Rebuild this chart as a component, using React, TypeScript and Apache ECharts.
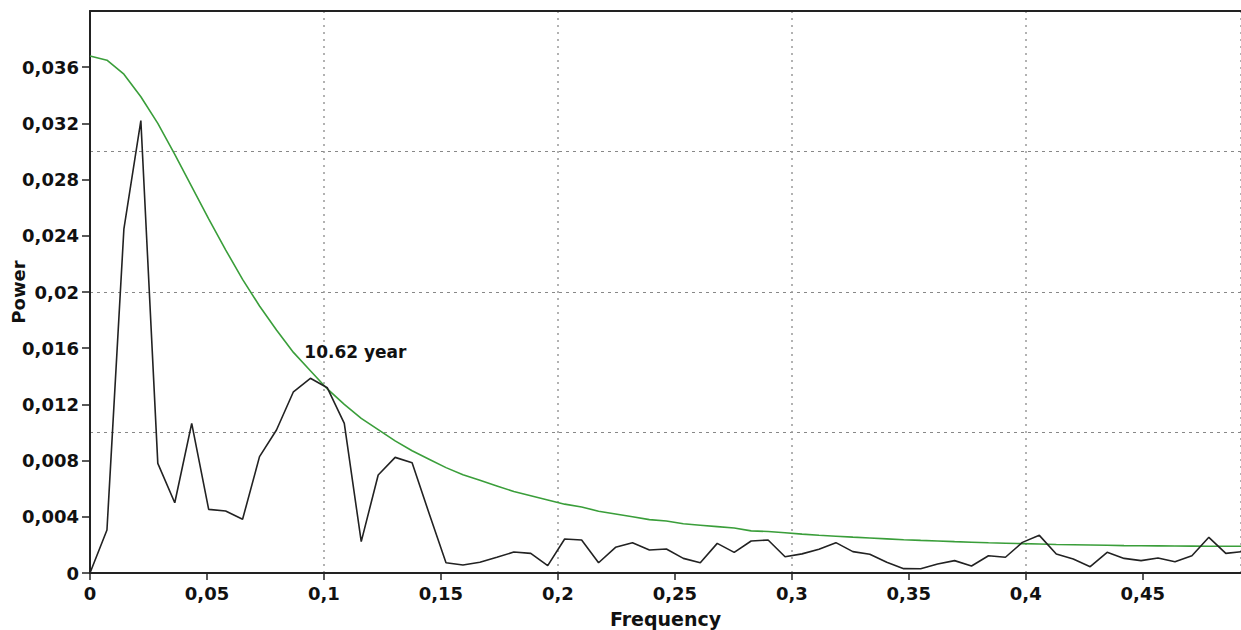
import React, { useEffect, useRef } from "react";
import * as echarts from "echarts";

// Frequency spacing of the periodogram (cycles per year)
const freqStep = 1 / 138;

// Periodogram power (black line)
const powerValues = [
  0, 0.00306, 0.0245, 0.0322, 0.0078, 0.005, 0.01065, 0.00453, 0.00441, 0.00382,
  0.00828, 0.01018, 0.0129, 0.01386, 0.01318, 0.01065, 0.00223, 0.00698, 0.00823, 0.00785,
  0.00425, 0.00073, 0.00057, 0.00076, 0.00112, 0.00149, 0.0014, 0.00052, 0.00242, 0.00235,
  0.00073, 0.00183, 0.00216, 0.00164, 0.00171, 0.00104, 0.00073, 0.00211, 0.00147, 0.00228,
  0.00235, 0.00116, 0.00136, 0.00169, 0.00216, 0.00152, 0.00133, 0.00076, 0.00031, 0.0003,
  0.00064, 0.00088, 0.0005, 0.00123, 0.00112, 0.00218, 0.00268, 0.00135, 0.001, 0.00045,
  0.00147, 0.00104, 0.00088, 0.00107, 0.0008, 0.00123, 0.00254, 0.0014, 0.00152,
];

// Red-noise significance level (green line)
const noiseValues = [
  0.0368, 0.0365, 0.0355, 0.0339, 0.032, 0.0298, 0.0275, 0.0252, 0.023, 0.0209,
  0.019, 0.0173, 0.0157, 0.0144, 0.0131, 0.012, 0.011, 0.0102, 0.0094, 0.0087,
  0.0081, 0.0075, 0.007, 0.0066, 0.0062, 0.0058, 0.0055, 0.0052, 0.0049, 0.0047,
  0.0044, 0.0042, 0.004, 0.0038, 0.0037, 0.0035, 0.0034, 0.0033, 0.0032, 0.003,
  0.00295, 0.00286, 0.00277, 0.00269, 0.00262, 0.00255, 0.00249, 0.00243, 0.00237, 0.00232,
  0.00228, 0.00223, 0.00219, 0.00215, 0.00212, 0.00209, 0.00206, 0.00203, 0.00201, 0.00199,
  0.00197, 0.00195, 0.00194, 0.00193, 0.00192, 0.00191, 0.0019, 0.0019, 0.0019,
];

const peakIndex = 13;
const peakLabel = "10.62 year";

const xMax = 0.492;
const yMax = 0.04;

const FONT = "DejaVu Sans";

function fmtComma(v: number, step: number): string {
  const k = Math.round(v / step);
  if (Math.abs(k * step - v) > 1e-9) return "";
  if (v === 0) return "0";
  const s = parseFloat(v.toFixed(4)).toString();
  return s.replace(".", ",");
}

export default function App() {
  const ref = useRef<HTMLDivElement>(null);
  useEffect(() => {
    if (!ref.current) return;
    const chart = echarts.init(ref.current, null, { renderer: "svg" });
    const powerData = powerValues.map((v, i) => [i * freqStep, v]);
    const noiseData = noiseValues.map((v, i) => [i * freqStep, v]);
    const labelStyle = {
      color: "#111",
      fontFamily: FONT,
      fontWeight: "bold" as const,
      fontSize: 18,
    };
    chart.setOption({
      animation: false,
      backgroundColor: "#fff",
      grid: {
        left: 90,
        right: 0,
        top: 11,
        bottom: 57,
        containLabel: false,
        outerBoundsMode: "none",
      },
      xAxis: [
        {
          type: "value",
          min: 0,
          max: xMax,
          interval: 0.05,
          position: "bottom",
          name: "Frequency",
          nameLocation: "middle",
          nameGap: 36,
          nameMoveOverlap: false,
          nameTextStyle: { ...labelStyle, fontSize: 19 },
          axisLine: { show: true, onZero: false, lineStyle: { color: "#222", width: 2 } },
          axisTick: { show: true, length: 7, lineStyle: { color: "#222", width: 1.5 } },
          axisLabel: {
            ...labelStyle,
            margin: 11,
            showMaxLabel: false,
            formatter: (v: number) => fmtComma(v, 0.05),
          },
          splitLine: { show: false },
        },
        {
          type: "value",
          min: 0,
          max: xMax,
          interval: 0.1,
          position: "top",
          axisLine: { show: true, onZero: false, lineStyle: { color: "#222", width: 2 } },
          axisTick: { show: false },
          axisLabel: { show: false },
          splitLine: {
            show: true,
            lineStyle: { color: "#999", width: 1.5, type: [2, 5] },
          },
        },
      ],
      yAxis: [
        {
          type: "value",
          min: 0,
          max: yMax,
          interval: 0.004,
          position: "left",
          name: "Power",
          nameLocation: "middle",
          nameGap: 63,
          nameMoveOverlap: false,
          nameRotate: 90,
          nameTextStyle: labelStyle,
          axisLine: { show: true, onZero: false, lineStyle: { color: "#222", width: 2 } },
          axisTick: { show: true, length: 8, lineStyle: { color: "#222", width: 1.5 } },
          axisLabel: {
            ...labelStyle,
            margin: 11,
            showMaxLabel: false,
            formatter: (v: number) => (v >= yMax - 1e-9 ? "" : fmtComma(v, 0.004)),
          },
          splitLine: { show: false },
        },
        {
          type: "value",
          min: 0,
          max: yMax,
          interval: 0.01,
          position: "right",
          axisLine: { show: false },
          axisTick: { show: false },
          axisLabel: { show: false },
          splitLine: {
            show: true,
            lineStyle: { color: "#888", width: 1.2, type: [3, 4] },
          },
        },
      ],
      series: [
        {
          type: "line",
          data: noiseData,
          xAxisIndex: 0,
          yAxisIndex: 0,
          showSymbol: false,
          symbol: "none",
          lineStyle: { color: "#3a9e3a", width: 1.6 },
          clip: true,
          z: 3,
        },
        {
          type: "line",
          data: powerData,
          xAxisIndex: 0,
          yAxisIndex: 0,
          showSymbol: false,
          symbol: "none",
          lineStyle: { color: "#222", width: 1.6 },
          clip: true,
          z: 4,
          markPoint: {
            symbol: "circle",
            symbolSize: 0,
            silent: true,
            data: [
              {
                coord: [peakIndex * freqStep, powerValues[peakIndex]],
                label: {
                  show: true,
                  formatter: peakLabel,
                  position: "inside",
                  align: "center",
                  verticalAlign: "middle",
                  offset: [45, -26],
                  color: "#111",
                  fontFamily: FONT,
                  fontWeight: "bold",
                  fontSize: 17,
                },
              },
            ],
          },
        },
      ],
    });
    return () => chart.dispose();
  }, []);
  return (
    <div
      ref={ref}
      style={{ position: "fixed", left: 0, top: 0, width: 1241, height: 630, background: "#fff" }}
    />
  );
}
